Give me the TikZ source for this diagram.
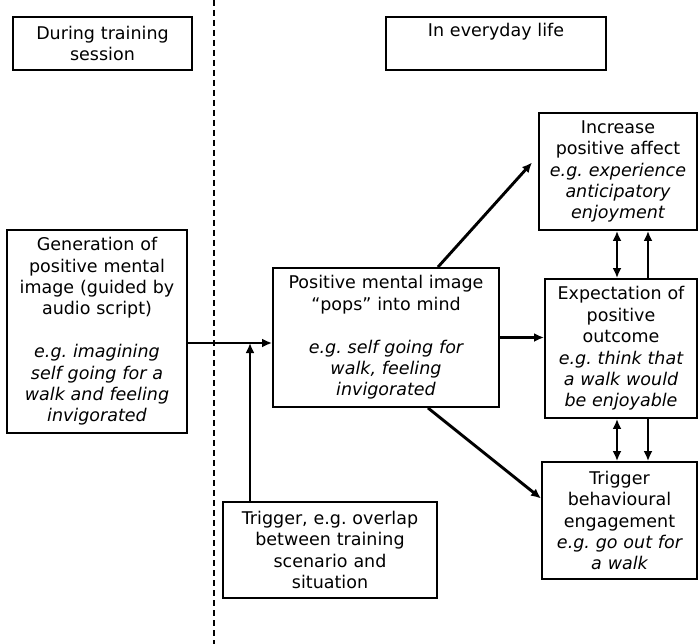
\documentclass[tikz,border=0pt]{standalone}
\usepackage{fontspec}
\setmainfont{DejaVu Sans}
\usetikzlibrary{arrows.meta}
\frenchspacing

\begin{document}
\begin{tikzpicture}[x=1pt,y=-1pt,
  box/.style={draw, line width=1.9pt, align=center, inner sep=2pt,
    font=\fontsize{17.5}{21.4}\selectfont},
  arr/.style={line width=2.9pt, -{Latex[length=10pt,width=9pt]}},
  dblarr/.style={line width=2.9pt, {Latex[length=10pt,width=9pt]}-{Latex[length=10pt,width=9pt]}}]

\useasboundingbox (0,0) rectangle (698,644);

%\draw[help lines,step=50] (0,0) grid (698,644);

\draw[line width=1.6pt, dash pattern=on 6pt off 4pt] (214,0) -- (214,644); % divider

% headings
\node[box, minimum width=179pt, minimum height=53pt, text width=173pt] (session) at (102.5,43.5) {During training\\session};
\node[box, minimum width=220pt, minimum height=53pt, text width=214pt] (life) at (496,43.5) {In everyday life\\\strut};

% training side
\node[box, minimum width=180pt, minimum height=203pt, text width=174pt] (gen) at (97,331.5)
  {Generation of\\positive mental\\image (guided by\\audio script)\\[21.4pt]
   \itshape e.g. imagining\\self going for a\\walk and feeling\\invigorated};

% everyday side
\node[box, minimum width=226pt, minimum height=139pt, text width=220pt] (pops) at (386,337.5)
  {Positive mental image\\“pops” into mind\\[21.4pt]
   \itshape e.g. self going for\\walk, feeling\\invigorated};
\node[box, minimum width=214pt, minimum height=96pt, text width=208pt] (overlap) at (330,550)
  {Trigger, e.g. overlap\\between training\\scenario and\\situation};
\node[box, minimum width=158pt, minimum height=117pt, text width=152pt] (affect) at (618,171.5)
  {Increase\\positive affect\\\itshape e.g. experience\\anticipatory\\enjoyment};
\node[box, minimum width=152pt, minimum height=139pt, text width=146pt] (expect) at (621,348.5)
  {Expectation of\\positive\\outcome\\\itshape e.g. think that\\a walk would\\be enjoyable};
\node[box, minimum width=155pt, minimum height=117pt, text width=149pt] (behav) at (619.5,520.5)
  {Trigger\\behavioural\\engagement\\\itshape e.g. go out for\\a walk};

\coordinate (join) at (250,343);
\coordinate (pairL) at (617,0);
\coordinate (pairR) at (648,0);

\draw[arr] (gen.east |- join) -- (pops.west |- join);
\draw[arr] (overlap.north -| join) -- (join); % trigger
\draw[arr] ([shift={(-62,0)}]pops.north east) -- ([shift={(-6,-9)}]affect.west);
\draw[arr] (pops.east) -- (pops.east -| expect.west);
\draw[arr] ([shift={(-72,0)}]pops.south east) -- ([shift={(0,-22)}]behav.west);

\draw[dblarr] (affect.south -| pairL) -- (expect.north -| pairL);
\draw[arr] (expect.north -| pairR) -- (affect.south -| pairR);
\draw[dblarr] (expect.south -| pairL) -- (behav.north -| pairL);
\draw[arr] (expect.south -| pairR) -- (behav.north -| pairR);

\end{tikzpicture}
\end{document}
